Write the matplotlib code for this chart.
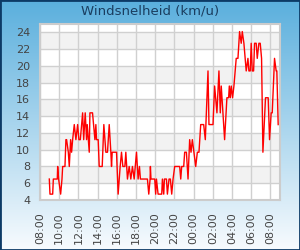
import numpy as np
import matplotlib
matplotlib.use("Agg")
import matplotlib.pyplot as plt
from matplotlib.patches import Rectangle

# hours since 00:00 of the first day (values > 24 are the next morning)
hours = [
    8.97, 9.04, 9.32, 9.39, 9.80, 9.84, 9.94, 10.15, 10.29, 10.36,
    10.60, 10.70, 10.77, 10.95, 11.05, 11.19, 11.29, 11.40, 11.57, 11.74,
    11.92, 12.05, 12.20, 12.44, 12.55, 12.71, 12.85, 12.92, 13.13, 13.20,
    13.47, 13.72, 13.82, 13.89, 14.06, 14.17, 14.48, 14.65, 14.86, 15.03,
    15.21, 15.38, 15.45, 15.52, 15.97, 16.14, 16.35, 16.49, 16.63, 16.84,
    16.94, 17.11, 17.29, 17.46, 17.63, 17.81, 18.05, 18.22, 18.36, 18.46,
    19.19, 19.33, 19.47, 19.50, 19.56, 19.95, 20.05, 20.13, 20.30, 20.68,
    20.75, 20.89, 20.96, 21.17, 21.27, 21.44, 21.58, 21.72, 21.86, 22.03,
    22.55, 22.66, 22.76, 22.97, 23.07, 23.25, 23.42, 23.59, 23.73, 23.87,
    24.22, 24.39, 24.56, 24.74, 25.05, 25.22, 25.50, 25.60, 26.02, 26.19,
    26.43, 26.64, 26.78, 26.88, 27.23, 27.47, 27.65, 27.72, 27.82, 27.92,
    28.06, 28.20, 28.44, 28.62, 28.79, 28.96, 29.07, 29.24, 29.48, 29.66,
    29.76, 29.90, 30.00, 30.11, 30.25, 30.35, 30.52, 30.63, 30.80, 30.94,
    31.08, 31.22, 31.49, 31.77, 31.91, 32.08, 32.19, 32.43, 32.60, 32.67,
    32.81,
]
speed = [
    6.5, 4.7, 4.7, 6.5, 6.5, 8.0, 6.5, 4.7, 6.5, 8.0,
    8.0, 11.2, 11.2, 9.7, 8.0, 11.2, 9.7, 11.2, 13.0, 11.2,
    13.0, 11.2, 11.2, 14.4, 11.2, 14.4, 11.2, 13.0, 9.7, 14.4,
    14.4, 11.2, 13.0, 11.2, 11.2, 8.0, 8.0, 13.0, 9.7, 9.7,
    13.0, 9.7, 8.0, 9.7, 9.7, 4.7, 8.0, 9.7, 8.0, 8.0,
    9.7, 6.5, 8.0, 6.5, 8.0, 6.5, 9.7, 6.5, 8.0, 6.5,
    6.5, 4.7, 6.5, 8.0, 6.5, 6.5, 4.7, 6.5, 4.7, 4.7,
    6.5, 4.7, 6.5, 6.5, 4.7, 6.5, 6.5, 4.7, 6.5, 8.0,
    8.0, 6.5, 8.0, 8.0, 9.7, 9.7, 6.5, 11.2, 9.7, 11.2,
    8.0, 9.7, 9.7, 13.0, 13.0, 11.2, 19.4, 13.0, 13.0, 17.6,
    14.4, 19.4, 14.4, 17.6, 11.2, 16.2, 16.2, 17.6, 16.2, 17.6,
    16.2, 17.6, 20.9, 20.9, 24.1, 22.7, 24.1, 22.7, 19.4, 20.9,
    19.4, 19.4, 22.7, 19.4, 19.4, 22.7, 22.7, 20.9, 22.7, 22.7,
    20.9, 9.7, 16.2, 16.2, 11.2, 14.4, 14.4, 20.9, 19.4, 19.4,
    13.0,
]
x_ticks = list(range(8, 34, 2))
x_labels = ["%02d:00" % (h % 24) for h in x_ticks]
y_ticks = list(range(4, 26, 2))

title = "Windsnelheid (km/u)"

fig = plt.figure(figsize=(3.0, 2.5), dpi=100)

# gradient background
bg = fig.add_axes([0, 0, 1, 1], zorder=-10)
top_col = np.array([0x5a, 0xaf, 0xdd]) / 255.0
bot_col = np.array([0xf8, 0xfb, 0xfe]) / 255.0
f = np.linspace(0, 1, 256)[:, None]
grad = top_col * (1 - f) + bot_col * f
bg.imshow(grad[:, None, :], aspect="auto", extent=[0, 1, 0, 1])
bg.set_axis_off()
fig.patches.append(Rectangle((0, 0), 1, 1, transform=fig.transFigure,
                             fill=False, edgecolor="#0c3a66", linewidth=2.0))

ax = fig.add_axes([40 / 300, 1 - 200 / 250, 240 / 300, 176 / 250])
ax.set_facecolor("white")
for lo in range(6, 24, 4):
    ax.axhspan(lo, lo + 2, color="#f2f2f2", zorder=0, linewidth=0)

ax.plot(hours, speed, color="#ff0000", linewidth=1.0, zorder=3)

ax.set_xlim(8, 33)
ax.set_ylim(4, 25)
ax.set_xticks(x_ticks)
ax.set_xticklabels(x_labels, rotation=90)
ax.set_yticks(y_ticks)
ax.grid(True, color="#d0d0d0", linewidth=1.0, zorder=1)
ax.set_axisbelow(True)
ax.tick_params(length=0, labelsize=8, colors="#444444")
ax.tick_params(axis="y", pad=7)
ax.tick_params(axis="x", pad=9)
for s in ax.spines.values():
    s.set_color("#cccccc")
    s.set_linewidth(1.5)

fig.text(0.5, 1 - 11.5 / 250, title, ha="center", va="center",
         fontsize=9.5, color="#1a3d5f")

fig.savefig("out.png", dpi=100)
